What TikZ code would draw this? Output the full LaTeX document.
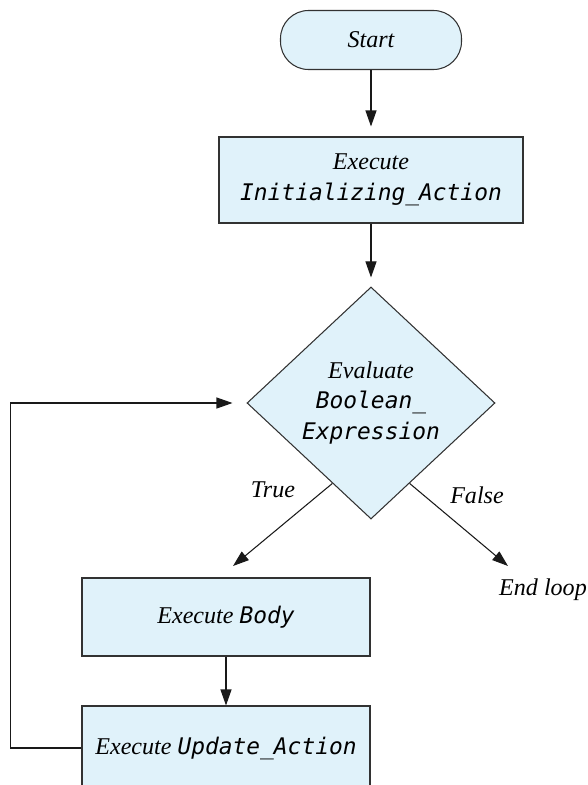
\documentclass[tikz,border=0pt]{standalone}
\usepackage{fontspec}
\setmainfont{Liberation Serif}
\newfontfamily\codefont[Scale=0.95]{DejaVu Sans Mono}
\usetikzlibrary{shapes.geometric,arrows.meta,calc}
\definecolor{boxfill}{RGB}{224,242,250}
\definecolor{boxline}{RGB}{50,50,50}
\newcommand{\code}[1]{{\codefont\itshape #1}}
\begin{document}
\begin{tikzpicture}[
        every node/.style={font=\fontsize{13.7}{17.5}\selectfont\itshape},
        stepbox/.style={draw=boxline,fill=boxfill,line width=0.6pt,align=center,inner sep=1mm},
        arr/.style={-{Triangle[length=3.2mm,width=2.2mm]},line width=0.6pt,black!90}
    ]
    \useasboundingbox (0,0) rectangle (11.74,-15.7);
    \node[stepbox,rounded corners=5.6mm,minimum width=3.62cm,minimum height=1.18cm] (start) at (7.42,-0.8) {Start};
    \node[stepbox,minimum width=6.08cm,minimum height=1.72cm] (init) at (7.42,-3.6) {Execute\\\code{Initializing\_Action}};
    \node[stepbox,diamond,aspect=1.07,inner sep=0.5mm,minimum width=4.96cm,minimum height=4.64cm] (test) at (7.42,-8.06) {Evaluate\\\code{Boolean\_}\\\code{Expression}};
    \node[stepbox,minimum width=5.76cm,minimum height=1.56cm] (body) at (4.52,-12.34) {Execute \code{Body}};
    \node[stepbox,minimum width=5.76cm,minimum height=1.68cm] (update) at (4.52,-14.96) {Execute \code{Update\_Action}};
    \node (endloop) at (10.86,-11.8) {End loop};
    \node (truelabel) at (5.46,-9.8) {True};
    \node (falselabel) at (9.54,-9.9) {False};
    \coordinate (trueend) at (4.66,-11.32);
    \coordinate (falseend) at (10.16,-11.32);

    \draw[arr,shorten >=2mm] (start) -- (init);
    \draw[arr,shorten >=1.8mm] (init) -- (test);
    \draw[arr] ($(test.west)!0.69!(test.south)$) -- (trueend);
    \draw[arr] ($(test.east)!0.69!(test.south)$) -- (falseend);
    \draw[arr] (body) -- (update);
    \draw[arr,shorten >=2.8mm] (update.west) -- ++(-1.42,0) |- (test.west);
\end{tikzpicture}
\end{document}
